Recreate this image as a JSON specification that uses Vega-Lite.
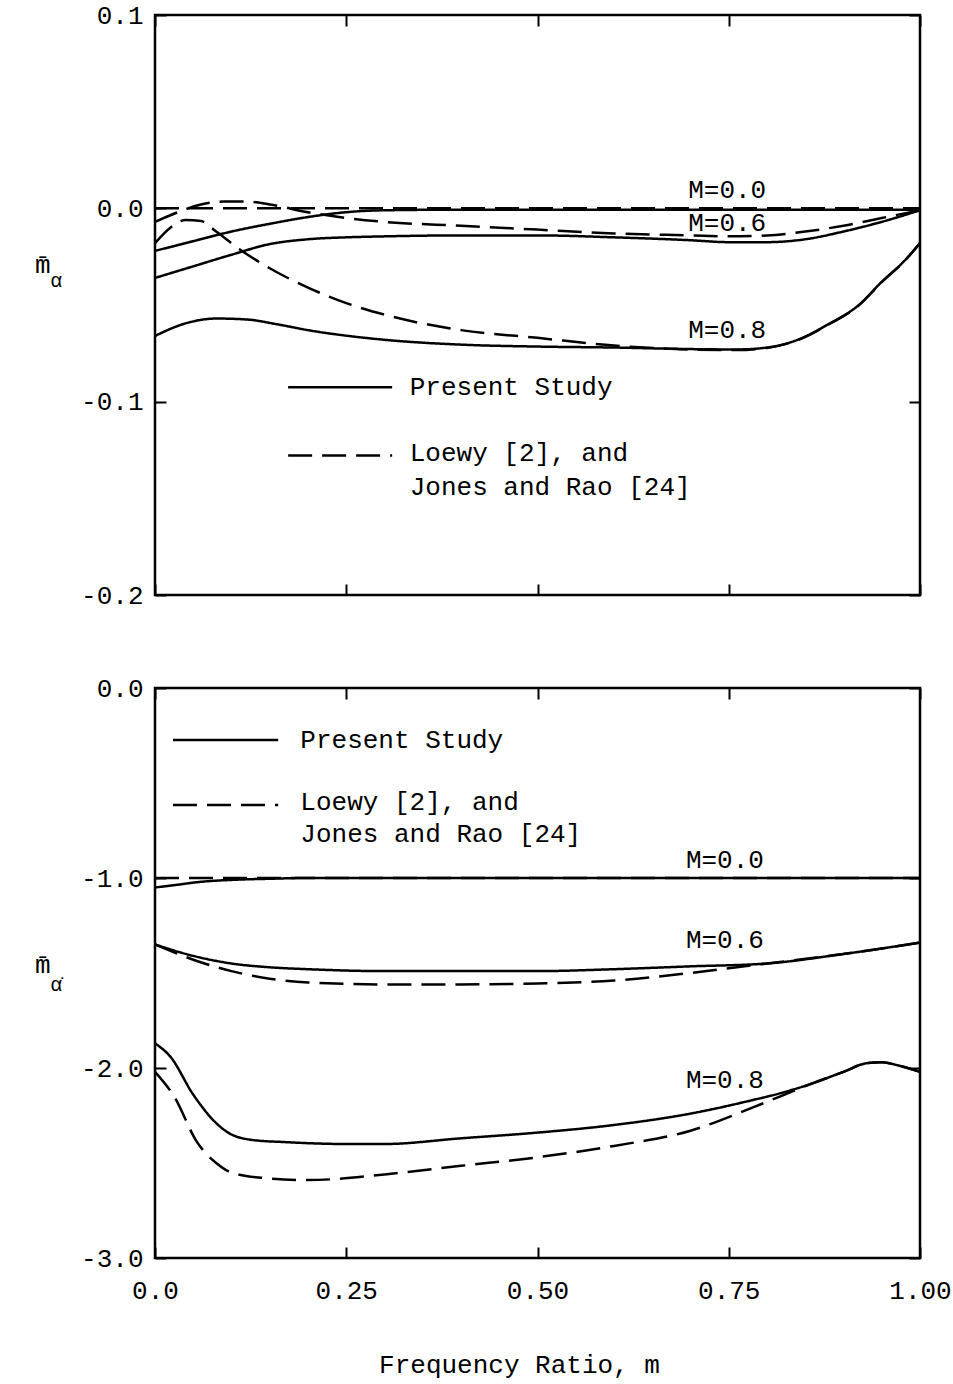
{
  "$schema": "https://vega.github.io/schema/vega-lite/v6.json",
  "background": "white",
  "padding": {"left": 33, "top": 0, "right": 0, "bottom": 0},
  "spacing": 93,
  "bounds": "flush",
  "config": {
    "view": {"stroke": "black", "strokeWidth": 2.5},
    "axis": {
      "domain": false,
      "grid": false,
      "tickColor": "black",
      "tickWidth": 2,
      "tickSize": -11,
      "labelFont": "Liberation Mono",
      "labelFontSize": 26,
      "labelColor": "black",
      "labelFlush": false,
      "titleFont": "Liberation Mono",
      "titleFontSize": 26,
      "titleFontWeight": "normal",
      "titleColor": "black"
    },
    "text": {"font": "Liberation Mono", "fontSize": 26, "color": "black", "align": "left", "baseline": "middle"}
  },
  "datasets": {
    "topCurves": [
      {"m": 0, "v": -0.022, "M": "0.0", "source": "Present Study"},
      {"m": 0.05, "v": -0.017, "M": "0.0", "source": "Present Study"},
      {"m": 0.1, "v": -0.012, "M": "0.0", "source": "Present Study"},
      {"m": 0.15, "v": -0.008, "M": "0.0", "source": "Present Study"},
      {"m": 0.2, "v": -0.0045, "M": "0.0", "source": "Present Study"},
      {"m": 0.25, "v": -0.002, "M": "0.0", "source": "Present Study"},
      {"m": 0.3, "v": -0.001, "M": "0.0", "source": "Present Study"},
      {"m": 0.4, "v": -0.0007, "M": "0.0", "source": "Present Study"},
      {"m": 0.6, "v": -0.0007, "M": "0.0", "source": "Present Study"},
      {"m": 0.8, "v": -0.0007, "M": "0.0", "source": "Present Study"},
      {"m": 1.0, "v": -0.0007, "M": "0.0", "source": "Present Study"},
      {"m": 0, "v": 0, "M": "0.0", "source": "Loewy"},
      {"m": 0.5, "v": 0, "M": "0.0", "source": "Loewy"},
      {"m": 1.0, "v": 0, "M": "0.0", "source": "Loewy"},
      {"m": 0, "v": -0.036, "M": "0.6", "source": "Present Study"},
      {"m": 0.05, "v": -0.030, "M": "0.6", "source": "Present Study"},
      {"m": 0.1, "v": -0.024, "M": "0.6", "source": "Present Study"},
      {"m": 0.15, "v": -0.0185, "M": "0.6", "source": "Present Study"},
      {"m": 0.2, "v": -0.016, "M": "0.6", "source": "Present Study"},
      {"m": 0.25, "v": -0.015, "M": "0.6", "source": "Present Study"},
      {"m": 0.3, "v": -0.0145, "M": "0.6", "source": "Present Study"},
      {"m": 0.4, "v": -0.014, "M": "0.6", "source": "Present Study"},
      {"m": 0.5, "v": -0.014, "M": "0.6", "source": "Present Study"},
      {"m": 0.6, "v": -0.015, "M": "0.6", "source": "Present Study"},
      {"m": 0.7, "v": -0.0165, "M": "0.6", "source": "Present Study"},
      {"m": 0.75, "v": -0.0175, "M": "0.6", "source": "Present Study"},
      {"m": 0.8, "v": -0.0175, "M": "0.6", "source": "Present Study"},
      {"m": 0.85, "v": -0.016, "M": "0.6", "source": "Present Study"},
      {"m": 0.9, "v": -0.012, "M": "0.6", "source": "Present Study"},
      {"m": 0.95, "v": -0.007, "M": "0.6", "source": "Present Study"},
      {"m": 1.0, "v": -0.001, "M": "0.6", "source": "Present Study"},
      {"m": 0, "v": -0.007, "M": "0.6", "source": "Loewy"},
      {"m": 0.03, "v": -0.002, "M": "0.6", "source": "Loewy"},
      {"m": 0.06, "v": 0.002, "M": "0.6", "source": "Loewy"},
      {"m": 0.09, "v": 0.0035, "M": "0.6", "source": "Loewy"},
      {"m": 0.12, "v": 0.0035, "M": "0.6", "source": "Loewy"},
      {"m": 0.15, "v": 0.002, "M": "0.6", "source": "Loewy"},
      {"m": 0.2, "v": -0.002, "M": "0.6", "source": "Loewy"},
      {"m": 0.25, "v": -0.005, "M": "0.6", "source": "Loewy"},
      {"m": 0.3, "v": -0.007, "M": "0.6", "source": "Loewy"},
      {"m": 0.4, "v": -0.009, "M": "0.6", "source": "Loewy"},
      {"m": 0.5, "v": -0.011, "M": "0.6", "source": "Loewy"},
      {"m": 0.6, "v": -0.013, "M": "0.6", "source": "Loewy"},
      {"m": 0.7, "v": -0.014, "M": "0.6", "source": "Loewy"},
      {"m": 0.75, "v": -0.0145, "M": "0.6", "source": "Loewy"},
      {"m": 0.8, "v": -0.014, "M": "0.6", "source": "Loewy"},
      {"m": 0.85, "v": -0.012, "M": "0.6", "source": "Loewy"},
      {"m": 0.9, "v": -0.009, "M": "0.6", "source": "Loewy"},
      {"m": 0.95, "v": -0.005, "M": "0.6", "source": "Loewy"},
      {"m": 1.0, "v": -0.001, "M": "0.6", "source": "Loewy"},
      {"m": 0, "v": -0.066, "M": "0.8", "source": "Present Study"},
      {"m": 0.04, "v": -0.0595, "M": "0.8", "source": "Present Study"},
      {"m": 0.08, "v": -0.057, "M": "0.8", "source": "Present Study"},
      {"m": 0.12, "v": -0.0575, "M": "0.8", "source": "Present Study"},
      {"m": 0.16, "v": -0.060, "M": "0.8", "source": "Present Study"},
      {"m": 0.2, "v": -0.063, "M": "0.8", "source": "Present Study"},
      {"m": 0.3, "v": -0.068, "M": "0.8", "source": "Present Study"},
      {"m": 0.4, "v": -0.0705, "M": "0.8", "source": "Present Study"},
      {"m": 0.5, "v": -0.0715, "M": "0.8", "source": "Present Study"},
      {"m": 0.6, "v": -0.072, "M": "0.8", "source": "Present Study"},
      {"m": 0.7, "v": -0.0728, "M": "0.8", "source": "Present Study"},
      {"m": 0.76, "v": -0.073, "M": "0.8", "source": "Present Study"},
      {"m": 0.8, "v": -0.072, "M": "0.8", "source": "Present Study"},
      {"m": 0.84, "v": -0.068, "M": "0.8", "source": "Present Study"},
      {"m": 0.88, "v": -0.060, "M": "0.8", "source": "Present Study"},
      {"m": 0.92, "v": -0.050, "M": "0.8", "source": "Present Study"},
      {"m": 0.95, "v": -0.038, "M": "0.8", "source": "Present Study"},
      {"m": 0.98, "v": -0.027, "M": "0.8", "source": "Present Study"},
      {"m": 1.0, "v": -0.018, "M": "0.8", "source": "Present Study"},
      {"m": 0, "v": -0.018, "M": "0.8", "source": "Loewy"},
      {"m": 0.02, "v": -0.010, "M": "0.8", "source": "Loewy"},
      {"m": 0.04, "v": -0.006, "M": "0.8", "source": "Loewy"},
      {"m": 0.06, "v": -0.0065, "M": "0.8", "source": "Loewy"},
      {"m": 0.08, "v": -0.012, "M": "0.8", "source": "Loewy"},
      {"m": 0.11, "v": -0.021, "M": "0.8", "source": "Loewy"},
      {"m": 0.15, "v": -0.031, "M": "0.8", "source": "Loewy"},
      {"m": 0.2, "v": -0.041, "M": "0.8", "source": "Loewy"},
      {"m": 0.25, "v": -0.049, "M": "0.8", "source": "Loewy"},
      {"m": 0.3, "v": -0.055, "M": "0.8", "source": "Loewy"},
      {"m": 0.4, "v": -0.063, "M": "0.8", "source": "Loewy"},
      {"m": 0.5, "v": -0.067, "M": "0.8", "source": "Loewy"},
      {"m": 0.6, "v": -0.071, "M": "0.8", "source": "Loewy"},
      {"m": 0.7, "v": -0.073, "M": "0.8", "source": "Loewy"},
      {"m": 0.76, "v": -0.0733, "M": "0.8", "source": "Loewy"},
      {"m": 0.8, "v": -0.0722, "M": "0.8", "source": "Loewy"},
      {"m": 0.84, "v": -0.0682, "M": "0.8", "source": "Loewy"},
      {"m": 0.88, "v": -0.0602, "M": "0.8", "source": "Loewy"},
      {"m": 0.92, "v": -0.0502, "M": "0.8", "source": "Loewy"},
      {"m": 0.95, "v": -0.0382, "M": "0.8", "source": "Loewy"},
      {"m": 0.98, "v": -0.0272, "M": "0.8", "source": "Loewy"},
      {"m": 1.0, "v": -0.018, "M": "0.8", "source": "Loewy"}
    ],
    "bottomCurves": [
      {"m": 0, "v": -1.05, "M": "0.0", "source": "Present Study"},
      {"m": 0.03, "v": -1.035, "M": "0.0", "source": "Present Study"},
      {"m": 0.06, "v": -1.02, "M": "0.0", "source": "Present Study"},
      {"m": 0.1, "v": -1.01, "M": "0.0", "source": "Present Study"},
      {"m": 0.15, "v": -1.004, "M": "0.0", "source": "Present Study"},
      {"m": 0.2, "v": -1.0, "M": "0.0", "source": "Present Study"},
      {"m": 0.5, "v": -1.0, "M": "0.0", "source": "Present Study"},
      {"m": 1.0, "v": -1.0, "M": "0.0", "source": "Present Study"},
      {"m": 0, "v": -1.0, "M": "0.0", "source": "Loewy"},
      {"m": 0.5, "v": -1.0, "M": "0.0", "source": "Loewy"},
      {"m": 1.0, "v": -1.0, "M": "0.0", "source": "Loewy"},
      {"m": 0, "v": -1.35, "M": "0.6", "source": "Present Study"},
      {"m": 0.05, "v": -1.41, "M": "0.6", "source": "Present Study"},
      {"m": 0.1, "v": -1.45, "M": "0.6", "source": "Present Study"},
      {"m": 0.15, "v": -1.47, "M": "0.6", "source": "Present Study"},
      {"m": 0.2, "v": -1.48, "M": "0.6", "source": "Present Study"},
      {"m": 0.3, "v": -1.49, "M": "0.6", "source": "Present Study"},
      {"m": 0.4, "v": -1.49, "M": "0.6", "source": "Present Study"},
      {"m": 0.5, "v": -1.49, "M": "0.6", "source": "Present Study"},
      {"m": 0.6, "v": -1.48, "M": "0.6", "source": "Present Study"},
      {"m": 0.7, "v": -1.465, "M": "0.6", "source": "Present Study"},
      {"m": 0.8, "v": -1.45, "M": "0.6", "source": "Present Study"},
      {"m": 0.9, "v": -1.40, "M": "0.6", "source": "Present Study"},
      {"m": 1.0, "v": -1.34, "M": "0.6", "source": "Present Study"},
      {"m": 0, "v": -1.35, "M": "0.6", "source": "Loewy"},
      {"m": 0.05, "v": -1.43, "M": "0.6", "source": "Loewy"},
      {"m": 0.1, "v": -1.49, "M": "0.6", "source": "Loewy"},
      {"m": 0.15, "v": -1.53, "M": "0.6", "source": "Loewy"},
      {"m": 0.2, "v": -1.55, "M": "0.6", "source": "Loewy"},
      {"m": 0.3, "v": -1.56, "M": "0.6", "source": "Loewy"},
      {"m": 0.4, "v": -1.56, "M": "0.6", "source": "Loewy"},
      {"m": 0.5, "v": -1.555, "M": "0.6", "source": "Loewy"},
      {"m": 0.6, "v": -1.54, "M": "0.6", "source": "Loewy"},
      {"m": 0.7, "v": -1.50, "M": "0.6", "source": "Loewy"},
      {"m": 0.78, "v": -1.46, "M": "0.6", "source": "Loewy"},
      {"m": 0.8, "v": -1.45, "M": "0.6", "source": "Loewy"},
      {"m": 0.9, "v": -1.40, "M": "0.6", "source": "Loewy"},
      {"m": 1.0, "v": -1.34, "M": "0.6", "source": "Loewy"},
      {"m": 0, "v": -1.87, "M": "0.8", "source": "Present Study"},
      {"m": 0.02, "v": -1.94, "M": "0.8", "source": "Present Study"},
      {"m": 0.05, "v": -2.14, "M": "0.8", "source": "Present Study"},
      {"m": 0.08, "v": -2.29, "M": "0.8", "source": "Present Study"},
      {"m": 0.1, "v": -2.35, "M": "0.8", "source": "Present Study"},
      {"m": 0.13, "v": -2.38, "M": "0.8", "source": "Present Study"},
      {"m": 0.17, "v": -2.39, "M": "0.8", "source": "Present Study"},
      {"m": 0.25, "v": -2.40, "M": "0.8", "source": "Present Study"},
      {"m": 0.3, "v": -2.40, "M": "0.8", "source": "Present Study"},
      {"m": 0.4, "v": -2.37, "M": "0.8", "source": "Present Study"},
      {"m": 0.5, "v": -2.34, "M": "0.8", "source": "Present Study"},
      {"m": 0.6, "v": -2.30, "M": "0.8", "source": "Present Study"},
      {"m": 0.7, "v": -2.24, "M": "0.8", "source": "Present Study"},
      {"m": 0.78, "v": -2.17, "M": "0.8", "source": "Present Study"},
      {"m": 0.82, "v": -2.13, "M": "0.8", "source": "Present Study"},
      {"m": 0.86, "v": -2.08, "M": "0.8", "source": "Present Study"},
      {"m": 0.9, "v": -2.02, "M": "0.8", "source": "Present Study"},
      {"m": 0.93, "v": -1.975, "M": "0.8", "source": "Present Study"},
      {"m": 0.95, "v": -1.97, "M": "0.8", "source": "Present Study"},
      {"m": 0.97, "v": -1.985, "M": "0.8", "source": "Present Study"},
      {"m": 1.0, "v": -2.02, "M": "0.8", "source": "Present Study"},
      {"m": 0, "v": -2.02, "M": "0.8", "source": "Loewy"},
      {"m": 0.025, "v": -2.15, "M": "0.8", "source": "Loewy"},
      {"m": 0.055, "v": -2.39, "M": "0.8", "source": "Loewy"},
      {"m": 0.08, "v": -2.50, "M": "0.8", "source": "Loewy"},
      {"m": 0.1, "v": -2.55, "M": "0.8", "source": "Loewy"},
      {"m": 0.145, "v": -2.58, "M": "0.8", "source": "Loewy"},
      {"m": 0.2, "v": -2.59, "M": "0.8", "source": "Loewy"},
      {"m": 0.3, "v": -2.56, "M": "0.8", "source": "Loewy"},
      {"m": 0.4, "v": -2.515, "M": "0.8", "source": "Loewy"},
      {"m": 0.5, "v": -2.47, "M": "0.8", "source": "Loewy"},
      {"m": 0.6, "v": -2.41, "M": "0.8", "source": "Loewy"},
      {"m": 0.7, "v": -2.33, "M": "0.8", "source": "Loewy"},
      {"m": 0.78, "v": -2.21, "M": "0.8", "source": "Loewy"},
      {"m": 0.82, "v": -2.145, "M": "0.8", "source": "Loewy"},
      {"m": 0.86, "v": -2.08, "M": "0.8", "source": "Loewy"},
      {"m": 0.9, "v": -2.02, "M": "0.8", "source": "Loewy"},
      {"m": 0.93, "v": -1.975, "M": "0.8", "source": "Loewy"},
      {"m": 0.95, "v": -1.97, "M": "0.8", "source": "Loewy"},
      {"m": 0.97, "v": -1.985, "M": "0.8", "source": "Loewy"},
      {"m": 1.0, "v": -2.02, "M": "0.8", "source": "Loewy"}
    ],
    "topKeys": [
      {"m": 0.174, "m2": 0.31, "v": -0.0926, "source": "Present Study"},
      {"m": 0.174, "m2": 0.31, "v": -0.1278, "source": "Loewy"}
    ],
    "bottomKeys": [
      {"m": 0.0235, "m2": 0.161, "v": -0.274, "source": "Present Study"},
      {"m": 0.0235, "m2": 0.161, "v": -0.616, "source": "Loewy"}
    ],
    "topNotes": [
      {"m": 0.697, "v": 0.0093, "text": "M=0.0"},
      {"m": 0.697, "v": -0.0074, "text": "M=0.6"},
      {"m": 0.697, "v": -0.063, "text": "M=0.8"},
      {"m": 0.333, "v": -0.0926, "text": "Present Study"},
      {"m": 0.333, "v": -0.1267, "text": "Loewy [2], and"},
      {"m": 0.333, "v": -0.1443, "text": "Jones and Rao [24]"},
      {"m": -0.157, "v": -0.0295, "text": "m̄"}
    ],
    "topSub": [
      {"m": -0.137, "v": -0.0375, "text": "α"}
    ],
    "bottomNotes": [
      {"m": 0.694, "v": -0.905, "text": "M=0.0"},
      {"m": 0.694, "v": -1.326, "text": "M=0.6"},
      {"m": 0.694, "v": -2.063, "text": "M=0.8"},
      {"m": 0.19, "v": -0.274, "text": "Present Study"},
      {"m": 0.19, "v": -0.60, "text": "Loewy [2], and"},
      {"m": 0.19, "v": -0.768, "text": "Jones and Rao [24]"},
      {"m": -0.157, "v": -1.458, "text": "m̄"}
    ],
    "bottomSub": [
      {"m": -0.137, "v": -1.563, "text": "α̇"}
    ]
  },
  "vconcat": [
    {
      "width": 765,
      "height": 580,
      "layer": [
        {
          "data": {"name": "topCurves"},
          "mark": {"type": "line", "interpolate": "monotone", "color": "black", "strokeWidth": 2.5, "clip": true},
          "encoding": {
            "x": {"field": "m", "type": "quantitative",
                  "scale": {"domain": [0, 1], "nice": false, "zero": false},
                  "axis": {"orient": "bottom", "values": [0, 0.25, 0.5, 0.75, 1], "labels": false, "title": null}},
            "y": {"field": "v", "type": "quantitative",
                  "scale": {"domain": [-0.2, 0.1], "nice": false, "zero": false},
                  "axis": {"orient": "left", "values": [0.1, 0, -0.1, -0.2], "labelPadding": 23, "title": null,
                           "labelExpr": "datum.value > 0.05 ? '0.1' : datum.value > -0.05 ? '0.0' : datum.value > -0.15 ? '-0.1' : '-0.2'"}},
            "detail": {"field": "M", "type": "nominal"},
            "strokeDash": {"field": "source", "type": "nominal",
                           "scale": {"domain": ["Present Study", "Loewy"], "range": [[1, 0], [24, 10]]},
                           "legend": null}
          }
        },
        {
          "data": {"name": "topKeys"},
          "mark": {"type": "rule", "color": "black", "strokeWidth": 2.5},
          "encoding": {
            "x": {"field": "m", "type": "quantitative", "axis": null},
            "x2": {"field": "m2"},
            "y": {"field": "v", "type": "quantitative", "axis": null},
            "strokeDash": {"field": "source", "type": "nominal",
                           "scale": {"domain": ["Present Study", "Loewy"], "range": [[1, 0], [24, 10]]},
                           "legend": null}
          }
        },
        {
          "data": {"name": "topNotes"},
          "mark": {"type": "text"},
          "encoding": {
            "x": {"field": "m", "type": "quantitative",
                  "axis": {"orient": "top", "values": [0, 0.25, 0.5, 0.75, 1], "labels": false, "title": null}},
            "y": {"field": "v", "type": "quantitative",
                  "axis": {"orient": "right", "values": [0.1, 0, -0.1, -0.2], "labels": false, "title": null}},
            "text": {"field": "text"}
          }
        },
        {
          "data": {"name": "topSub"},
          "mark": {"type": "text", "fontSize": 20},
          "encoding": {
            "x": {"field": "m", "type": "quantitative", "axis": null},
            "y": {"field": "v", "type": "quantitative", "axis": null},
            "text": {"field": "text"}
          }
        }
      ]
    },
    {
      "width": 765,
      "height": 570,
      "layer": [
        {
          "data": {"name": "bottomCurves"},
          "mark": {"type": "line", "interpolate": "monotone", "color": "black", "strokeWidth": 2.5, "clip": true},
          "encoding": {
            "x": {"field": "m", "type": "quantitative",
                  "scale": {"domain": [0, 1], "nice": false, "zero": false},
                  "axis": {"orient": "bottom", "values": [0, 0.25, 0.5, 0.75, 1], "labelPadding": 30,
                           "labelExpr": "datum.value == 0 ? '0.0' : format(datum.value, '.2f')",
                           "title": "Frequency Ratio, m", "titlePadding": 48, "titleX": 364}},
            "y": {"field": "v", "type": "quantitative",
                  "scale": {"domain": [-3, 0], "nice": false, "zero": false},
                  "axis": {"orient": "left", "values": [0, -1, -2, -3], "labelPadding": 23, "title": null,
                           "labelExpr": "datum.value == 0 ? '0.0' : '-' + format(-datum.value, '.1f')"}},
            "detail": {"field": "M", "type": "nominal"},
            "strokeDash": {"field": "source", "type": "nominal",
                           "scale": {"domain": ["Present Study", "Loewy"], "range": [[1, 0], [24, 10]]},
                           "legend": null}
          }
        },
        {
          "data": {"name": "bottomKeys"},
          "mark": {"type": "rule", "color": "black", "strokeWidth": 2.5},
          "encoding": {
            "x": {"field": "m", "type": "quantitative", "axis": null},
            "x2": {"field": "m2"},
            "y": {"field": "v", "type": "quantitative", "axis": null},
            "strokeDash": {"field": "source", "type": "nominal",
                           "scale": {"domain": ["Present Study", "Loewy"], "range": [[1, 0], [24, 10]]},
                           "legend": null}
          }
        },
        {
          "data": {"name": "bottomNotes"},
          "mark": {"type": "text"},
          "encoding": {
            "x": {"field": "m", "type": "quantitative",
                  "axis": {"orient": "top", "values": [0, 0.25, 0.5, 0.75, 1], "labels": false, "title": null}},
            "y": {"field": "v", "type": "quantitative",
                  "axis": {"orient": "right", "values": [0, -1, -2, -3], "labels": false, "title": null}},
            "text": {"field": "text"}
          }
        },
        {
          "data": {"name": "bottomSub"},
          "mark": {"type": "text", "fontSize": 20},
          "encoding": {
            "x": {"field": "m", "type": "quantitative", "axis": null},
            "y": {"field": "v", "type": "quantitative", "axis": null},
            "text": {"field": "text"}
          }
        }
      ]
    }
  ]
}
